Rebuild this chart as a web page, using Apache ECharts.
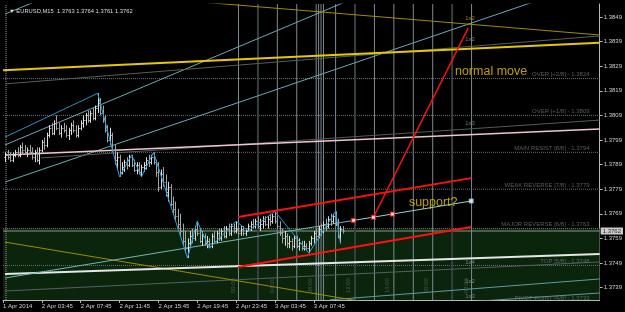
<!DOCTYPE html>
<html><head><meta charset="utf-8">
<script src="https://cdn.jsdelivr.net/npm/echarts@6/dist/echarts.min.js"></script>
<style>html,body{margin:0;padding:0;background:#000}#c{width:625px;height:312px}</style>
</head><body><div id="c"></div>
<script>
// time axis: hours relative to 2 Apr 2014 03:45 (M15 bars)
const barStart = -3.75;
const barStep = 0.25;
// [open, high, low, close]
const ohlc = [
[1.3792,1.3794,1.3790,1.3793],[1.3793,1.3795,1.3791,1.3792],[1.3792,1.3794,1.3790,1.3791],[1.3791,1.3794,1.3790,1.3793],
[1.3793,1.3795,1.3792,1.3794],[1.3794,1.3796,1.3792,1.3793],[1.3793,1.3797,1.3792,1.3796],[1.3796,1.3798,1.3793,1.3795],
[1.3795,1.3797,1.3793,1.3794],[1.3794,1.3796,1.3792,1.3795],[1.3795,1.3797,1.3793,1.3794],[1.3794,1.3796,1.3791,1.3792],
[1.3792,1.3795,1.3790,1.3794],[1.3794,1.3796,1.3790,1.3791],[1.3791,1.3796,1.3789,1.3795],[1.3795,1.3799,1.3794,1.3798],
[1.3798,1.3800,1.3795,1.3797],[1.3797,1.3802,1.3796,1.3801],[1.3801,1.3805,1.3800,1.3804],[1.3804,1.3806,1.3801,1.3802],
[1.3802,1.3807,1.3801,1.3806],[1.3806,1.3809,1.3803,1.3804],[1.3804,1.3806,1.3801,1.3802],[1.3802,1.3805,1.3800,1.3804],
[1.3804,1.3806,1.3802,1.3803],[1.3803,1.3805,1.3800,1.3801],[1.3801,1.3804,1.3799,1.3803],[1.3803,1.3806,1.3801,1.3805],
[1.3805,1.3807,1.3802,1.3803],[1.3803,1.3805,1.3800,1.3801],[1.3801,1.3805,1.3800,1.3804],[1.3804,1.3807,1.3803,1.3806],
[1.3806,1.3809,1.3804,1.3807],[1.3807,1.3810,1.3805,1.3809],[1.3809,1.3811,1.3806,1.3807],[1.3807,1.3811,1.3806,1.3810],
[1.3810,1.3812,1.3807,1.3808],[1.3808,1.3813,1.3807,1.3812],[1.3812,1.3818,1.3810,1.3814],[1.3814,1.3816,1.3809,1.3810],
[1.3810,1.3813,1.3806,1.3808],[1.3808,1.3809,1.3802,1.3803],[1.3803,1.3805,1.3798,1.3799],[1.3799,1.3804,1.3797,1.3801],
[1.3801,1.3802,1.3794,1.3795],[1.3795,1.3797,1.3789,1.3791],[1.3791,1.3794,1.3787,1.3792],[1.3792,1.3793,1.3784,1.3786],
[1.3786,1.3790,1.3785,1.3788],[1.3788,1.3791,1.3786,1.3790],[1.3790,1.3792,1.3787,1.3789],[1.3789,1.3793,1.3788,1.3792],
[1.3792,1.3793,1.3788,1.3789],[1.3789,1.3791,1.3786,1.3787],[1.3787,1.3790,1.3785,1.3789],[1.3789,1.3790,1.3785,1.3786],
[1.3786,1.3789,1.3784,1.3788],[1.3788,1.3790,1.3786,1.3789],[1.3789,1.3792,1.3787,1.3791],[1.3791,1.3793,1.3788,1.3790],
[1.3790,1.3793,1.3789,1.3792],[1.3792,1.3794,1.3789,1.3790],[1.3790,1.3791,1.3784,1.3786],[1.3786,1.3790,1.3778,1.3780],
[1.3780,1.3787,1.3779,1.3785],[1.3785,1.3788,1.3780,1.3782],[1.3782,1.3785,1.3776,1.3778],[1.3778,1.3782,1.3774,1.3780],
[1.3780,1.3781,1.3772,1.3773],[1.3773,1.3776,1.3769,1.3771],[1.3771,1.3774,1.3766,1.3768],[1.3768,1.3771,1.3763,1.3765],
[1.3765,1.3769,1.3760,1.3762],[1.3762,1.3765,1.3756,1.3758],[1.3758,1.3762,1.3753,1.3755],[1.3755,1.3759,1.3751,1.3757],
[1.3757,1.3762,1.3755,1.3760],[1.3760,1.3763,1.3757,1.3759],[1.3759,1.3764,1.3758,1.3763],[1.3763,1.3766,1.3760,1.3761],
[1.3761,1.3763,1.3757,1.3758],[1.3758,1.3762,1.3756,1.3760],[1.3760,1.3761,1.3756,1.3757],[1.3757,1.3760,1.3755,1.3758],
[1.3758,1.3759,1.3755,1.3756],[1.3756,1.3761,1.3755,1.3760],[1.3760,1.3762,1.3757,1.3758],[1.3758,1.3762,1.3757,1.3761],
[1.3761,1.3763,1.3758,1.3759],[1.3759,1.3763,1.3758,1.3762],[1.3762,1.3764,1.3759,1.3760],[1.3760,1.3764,1.3759,1.3763],
[1.3763,1.3765,1.3760,1.3761],[1.3761,1.3765,1.3760,1.3764],[1.3764,1.3765,1.3761,1.3762],[1.3762,1.3766,1.3761,1.3763],
[1.3763,1.3764,1.3760,1.3761],[1.3761,1.3764,1.3760,1.3763],[1.3763,1.3764,1.3760,1.3761],[1.3761,1.3763,1.3760,1.3762],
[1.3762,1.3765,1.3762,1.3764],[1.3764,1.3766,1.3762,1.3765],[1.3765,1.3767,1.3763,1.3764],[1.3764,1.3767,1.3763,1.3766],
[1.3766,1.3768,1.3763,1.3764],[1.3764,1.3767,1.3762,1.3765],[1.3765,1.3768,1.3763,1.3766],[1.3766,1.3768,1.3764,1.3765],
[1.3765,1.3768,1.3763,1.3767],[1.3767,1.3769,1.3764,1.3766],[1.3766,1.3769,1.3765,1.3768],[1.3768,1.3770,1.3765,1.3766],
[1.3766,1.3768,1.3763,1.3764],[1.3764,1.3766,1.3760,1.3761],[1.3761,1.3763,1.3757,1.3759],[1.3759,1.3762,1.3756,1.3760],
[1.3760,1.3761,1.3755,1.3757],[1.3757,1.3760,1.3755,1.3758],[1.3758,1.3759,1.3754,1.3756],[1.3756,1.3760,1.3755,1.3759],
[1.3759,1.3760,1.3755,1.3756],[1.3756,1.3759,1.3754,1.3757],[1.3757,1.3758,1.3754,1.3755],[1.3755,1.3758,1.3754,1.3756],
[1.3756,1.3757,1.3754,1.3755],[1.3755,1.3758,1.3753,1.3757],[1.3757,1.3760,1.3756,1.3759],[1.3759,1.3762,1.3757,1.3761],
[1.3761,1.3763,1.3758,1.3760],[1.3760,1.3764,1.3759,1.3763],[1.3763,1.3765,1.3760,1.3762],[1.3762,1.3766,1.3761,1.3765],
[1.3765,1.3767,1.3762,1.3764],[1.3764,1.3768,1.3763,1.3767],[1.3767,1.3769,1.3764,1.3766],[1.3766,1.3769,1.3765,1.3768],
[1.3768,1.3770,1.3764,1.3765],[1.3765,1.3767,1.3759,1.3760],[1.3760,1.3764,1.3757,1.3763],[1.3763,1.3764,1.3761,1.3762]
];
const zigzag = [[5.75,1.3818],[8.0,1.3784],[9.25,1.3793],[10.25,1.3784],[11.5,1.3794],[15.0,1.3751],[16.0,1.3766],
  [17.25,1.3755],[20.0,1.3766],[21.25,1.3762],[24.0,1.3770],[27.5,1.3753],[30.25,1.3770],[30.75,1.3757]];

const xTickHours = [-4,0,4,8,12,16,20,24,28];
const xTickLabels = ['1 Apr 2014','2 Apr 03:45','2 Apr 07:45','2 Apr 11:45','2 Apr 15:45','2 Apr 19:45','2 Apr 23:45','3 Apr 03:45','3 Apr 07:45'];
const priceTicks = [1.3739,1.3749,1.3759,1.3769,1.3779,1.3789,1.3799,1.3809,1.3819,1.3829,1.3839,1.3849];
const murreyLevels = [1.3824,1.3809,1.3794,1.3779,1.3763,1.3748,1.3733];
const murreyTexts = ['OVER [+2/8] - 1.3824','OVER [+1/8] - 1.3809','MAIN RESIST [8/8] - 1.3794','WEAK REVERSE [7/8] - 1.3779','MAJOR REVERSE [6/8] - 1.3763','TOP [5/8] - 1.3748','PIVOT POINT [4/8] - 1.3733'];
const lastPrice = 1.3762;
const titleText = 'EURUSD,M15  1.3763 1.3764 1.3761 1.3762';

// trend lines [[hour, price],[hour, price]]
const yellowMain = [[-4,1.38274],[57.44,1.38385]];
const oliveUpper = [[13.95,1.38559],[57.44,1.38417]];
const oliveLower = [[-3.79,1.37575],[32.72,1.37335]];
const grayUpper = [[-3.79,1.38218],[57.44,1.38413]];
const tealUpper = [[-3.79,1.37970],[31.69,1.38559]];
const tealTop = [[-3.79,1.38502],[-0.31,1.38559]];
const tealLower = [[-3.79,1.37819],[51.18,1.38559]];
const blueChannel = [[-3.79,1.38002],[5.75,1.3818]];
const pinkResist = [[-3.79,1.37929],[57.44,1.38035]];
const grayResist = [[-0.1,1.37917],[57.44,1.38071]];
const redUpper = [[20.21,1.37677],[44.21,1.37835]];
const redLower = [[20.21,1.37474],[44.21,1.37636]];
const redArrow = [[34.15,1.37676],[43.9,1.38445]];
const supportLine = [[-3.79,1.37429],[32.1,1.37663]];
const supportProj = [[32.1,1.37663],[44.21,1.37742]];
const supportDots = [[32.1,1.37663],[34.15,1.37676],[36.1,1.37689]];
const supportEnd = [[44.21,1.37742]];
const whiteTop = [[-3.79,1.37445],[57.44,1.37527]];
const grayBottomA = [[-3.79,1.37376],[57.44,1.37494]];
const tealBottomB = [[29.64,1.37340],[57.44,1.37425]];
const tealBottomC = [[45.03,1.37335],[57.44,1.37368]];

const vLinesLight = [20.25,24.25,26.25,28.25,28.5,28.75,29.0,30.25,34.25,36.25,38.25,40.25,44.25];
const vLinesDark = [22.25,32.25,42.25];
const vLineTexts = [[19.7,'00:00'],[23.7,'04:00'],[27.7,'08:00'],[31.6,'12:00'],[35.6,'16:00'],[39.6,'20:00'],[43.7,'00:00']];
const gannLabels = [[44.1,1.38486,'1x2'],[44.1,1.38401,'1x2'],[44.1,1.38059,'1x3'],[44.1,1.37492,'1x4'],[44.1,1.37415,'1x2'],[44.1,1.37354,'1x3']];
const notes = [[46.26,1.38270,'normal move'],[40.3,1.37734,'support?']];

const X_MIN = -4, X_MAX = 57.44, Y_MIN = 1.373395, Y_MAX = 1.38543;
const FONT = 'Liberation Sans';

const chart = echarts.init(document.getElementById('c'), null, {renderer:'canvas'});

function lineSeries(data, color, width, z, type){
  return {type:'line', data:data, symbol:'none', silent:true, z:z||3, animation:false,
    lineStyle:{color:color, width:width||1, type:type||'solid'}};
}

const series = [];
// green zone
series.push({type:'line', data:[], z:0, silent:true, animation:false,
  markArea:{silent:true, itemStyle:{color:'#0b250c'}, data:[[{yAxis:murreyLevels[4]},{yAxis:Y_MIN}]]}});
// murrey dotted levels
murreyLevels.forEach((v,i)=>{
  series.push(lineSeries([[X_MIN,v],[X_MAX,v]], i===4?'#5f805f':'#6a6e70', 1, 1, 'dotted'));
});
// bid line
series.push(lineSeries([[X_MIN,lastPrice],[X_MAX,lastPrice]], '#8c948c', 1, 2));
// vertical lines
vLinesLight.forEach(v=>series.push(lineSeries([[v,Y_MIN],[v,Y_MAX]], '#7d8a90', 1, 2)));
vLinesDark.forEach(v=>series.push(lineSeries([[v,Y_MIN],[v,Y_MAX]], '#363f42', 2, 2)));
series.push(lineSeries([[-3.69,Y_MIN],[-3.69,Y_MAX]], '#9a9a9a', 1, 2, 'dotted'));

// trend lines
series.push(lineSeries(tealUpper,'#6aaab2',1,3));
series.push(lineSeries(tealTop,'#6aaab2',1,3));
series.push(lineSeries(tealLower,'#6aaab2',1,3));
series.push(lineSeries(grayUpper,'#53605f',1,3));
series.push(lineSeries(grayResist,'#505c5c',1,3));
series.push(lineSeries(grayBottomA,'#52615f',1,3));
series.push(lineSeries(tealBottomB,'#5d9aa0',1,3));
series.push(lineSeries(tealBottomC,'#5d9aa0',1,3));
series.push(lineSeries(oliveUpper,'#a08c00',1,3));
series.push(lineSeries(oliveLower,'#a08c00',1,3));
series.push(lineSeries(yellowMain,'#e8c800',2,4));
series.push(lineSeries(pinkResist,'#f2c4cc',1.5,4));
series.push(lineSeries(whiteTop,'#e6e6e6',2,4));
series.push(lineSeries(supportLine,'#74b4b6',1,4));
series.push(lineSeries(supportProj,'#9cd0d0',1,4));
series.push(lineSeries(blueChannel,'#2a8fc0',1,4));

// OHLC bars
series.push({type:'custom', z:5, silent:true, animation:false, clip:true,
  data: ohlc.map((b,i)=>[barStart + i*barStep, b[0], b[1], b[2], b[3]]),
  encode:{x:0, y:[1,2,3,4]},
  renderItem:function(params, api){
    const t = api.value(0);
    const pO = api.coord([t, api.value(1)]), pH = api.coord([t, api.value(2)]);
    const pL = api.coord([t, api.value(3)]), pC = api.coord([t, api.value(4)]);
    const up = api.value(4) >= api.value(1);
    const col = up ? '#dcdcdc' : '#a4a4a4';
    const x = Math.round(pH[0]) + 0.5;
    return {type:'group', children:[
      {type:'line', shape:{x1:x, y1:pH[1], x2:x, y2:pL[1]}, style:{stroke:col, lineWidth:1}},
      {type:'line', shape:{x1:x-1, y1:Math.round(pO[1])+0.5, x2:x, y2:Math.round(pO[1])+0.5}, style:{stroke:col, lineWidth:1}},
      {type:'line', shape:{x1:x, y1:Math.round(pC[1])+0.5, x2:x+1.2, y2:Math.round(pC[1])+0.5}, style:{stroke:col, lineWidth:1}}
    ]};
  }});
// zigzag
series.push(lineSeries(zigzag,'#2aa0d8',1,6));
// red channel + arrow
series.push(lineSeries(redUpper,'#ff1010',2,7));
series.push(lineSeries(redLower,'#ff1010',2,7));
series.push({type:'line', data:[], z:7, silent:true, animation:false,
  markLine:{silent:true, symbol:['none','arrow'], symbolSize:[0,9], label:{show:false},
    lineStyle:{color:'#ff1010', width:1.5, type:'solid'},
    data:[[{coord:redArrow[0]},{coord:redArrow[1]}]]}});
// support markers
series.push({type:'scatter', z:8, silent:true, animation:false, symbol:'rect', symbolSize:4,
  itemStyle:{color:'#ffffff', borderColor:'#ff1010', borderWidth:1.2}, data:supportDots});
series.push({type:'scatter', z:8, silent:true, animation:false, symbol:'rect', symbolSize:4,
  itemStyle:{color:'#ffffff', borderColor:'#8cc8c8', borderWidth:1}, data:supportEnd});
// bid price box on axis
series.push({type:'scatter', z:10, silent:true, animation:false, clip:false, symbolSize:0,
  data:[{value:[X_MAX, lastPrice], name:lastPrice.toFixed(4)}],
  label:{show:true, formatter:p=>p.name, position:[1,0], align:'left', verticalAlign:'middle',
    backgroundColor:'#ffffff', color:'#000000', fontSize:6, fontFamily:FONT, padding:[1,2,0,2]}});

// murrey texts
series.push({type:'scatter', z:9, silent:true, animation:false, clip:false, symbolSize:0,
  data: murreyLevels.map((v,i)=>({value:[56.4, v], name:murreyTexts[i]})),
  label:{show:true, formatter:p=>p.name, position:[0,-1], align:'right', verticalAlign:'bottom',
    color:'#6c7478', fontSize:6, fontFamily:FONT}});
// rotated time texts
series.push({type:'scatter', z:9, silent:true, animation:false, clip:false, symbolSize:0,
  data: vLineTexts.map(d=>({value:[d[0], 1.37398], name:d[1]})),
  label:{show:true, formatter:p=>p.name, position:[0,0], rotate:90, align:'center', verticalAlign:'middle',
    color:'#56605f', fontSize:6, fontFamily:FONT}});
// gann labels
series.push({type:'scatter', z:9, silent:true, animation:false, clip:false, symbolSize:0,
  data: gannLabels.map((d,i)=>({value:[d[0], d[1]], name:d[2], label:{color: i===0?'#b8a000':'#8c9494'}})),
  label:{show:true, formatter:p=>p.name, position:[0,0], align:'center', verticalAlign:'middle', fontSize:6, fontFamily:FONT}});
// notes
series.push({type:'scatter', z:10, silent:true, animation:false, clip:false, symbolSize:0,
  data: notes.map(d=>({value:[d[0], d[1]], name:d[2]})),
  label:{show:true, formatter:p=>p.name, position:[0,0], align:'center', verticalAlign:'middle',
    color:'#e8c400', fontSize:12.5, fontFamily:FONT}});

chart.setOption({
  backgroundColor:'#000000',
  animation:false,
  title:{text:'\u25BC ' + titleText, left:4, top:3, textStyle:{color:'#dcdcdc', fontSize:5.8, fontWeight:'normal', fontFamily:FONT}},
  grid:{left:2, right:24, top:4, bottom:12, containLabel:false},
  xAxis:{type:'value', min:X_MIN, max:X_MAX, splitLine:{show:false},
    axisLine:{show:true, onZero:false, lineStyle:{color:'#b8b8b8'}},
    axisTick:{show:true, customValues:xTickHours, length:3, lineStyle:{color:'#b8b8b8'}},
    axisLabel:{customValues:xTickHours, formatter:v=>{const k=xTickHours.indexOf(v);return k>=0?xTickLabels[k]:'';},
      align:'left', color:'#d0d0d0', fontSize:6, fontFamily:FONT, margin:3, showMinLabel:true, showMaxLabel:true}},
  yAxis:{type:'value', position:'right', min:Y_MIN, max:Y_MAX, scale:true, splitLine:{show:false},
    axisLine:{show:true, onZero:false, lineStyle:{color:'#b8b8b8'}},
    axisTick:{show:true, customValues:priceTicks, length:3, lineStyle:{color:'#b8b8b8'}},
    axisLabel:{customValues:priceTicks, formatter:v=>v.toFixed(4), color:'#d0d0d0', fontSize:6, fontFamily:FONT, margin:4}},
  series:series
});
</script></body></html>
